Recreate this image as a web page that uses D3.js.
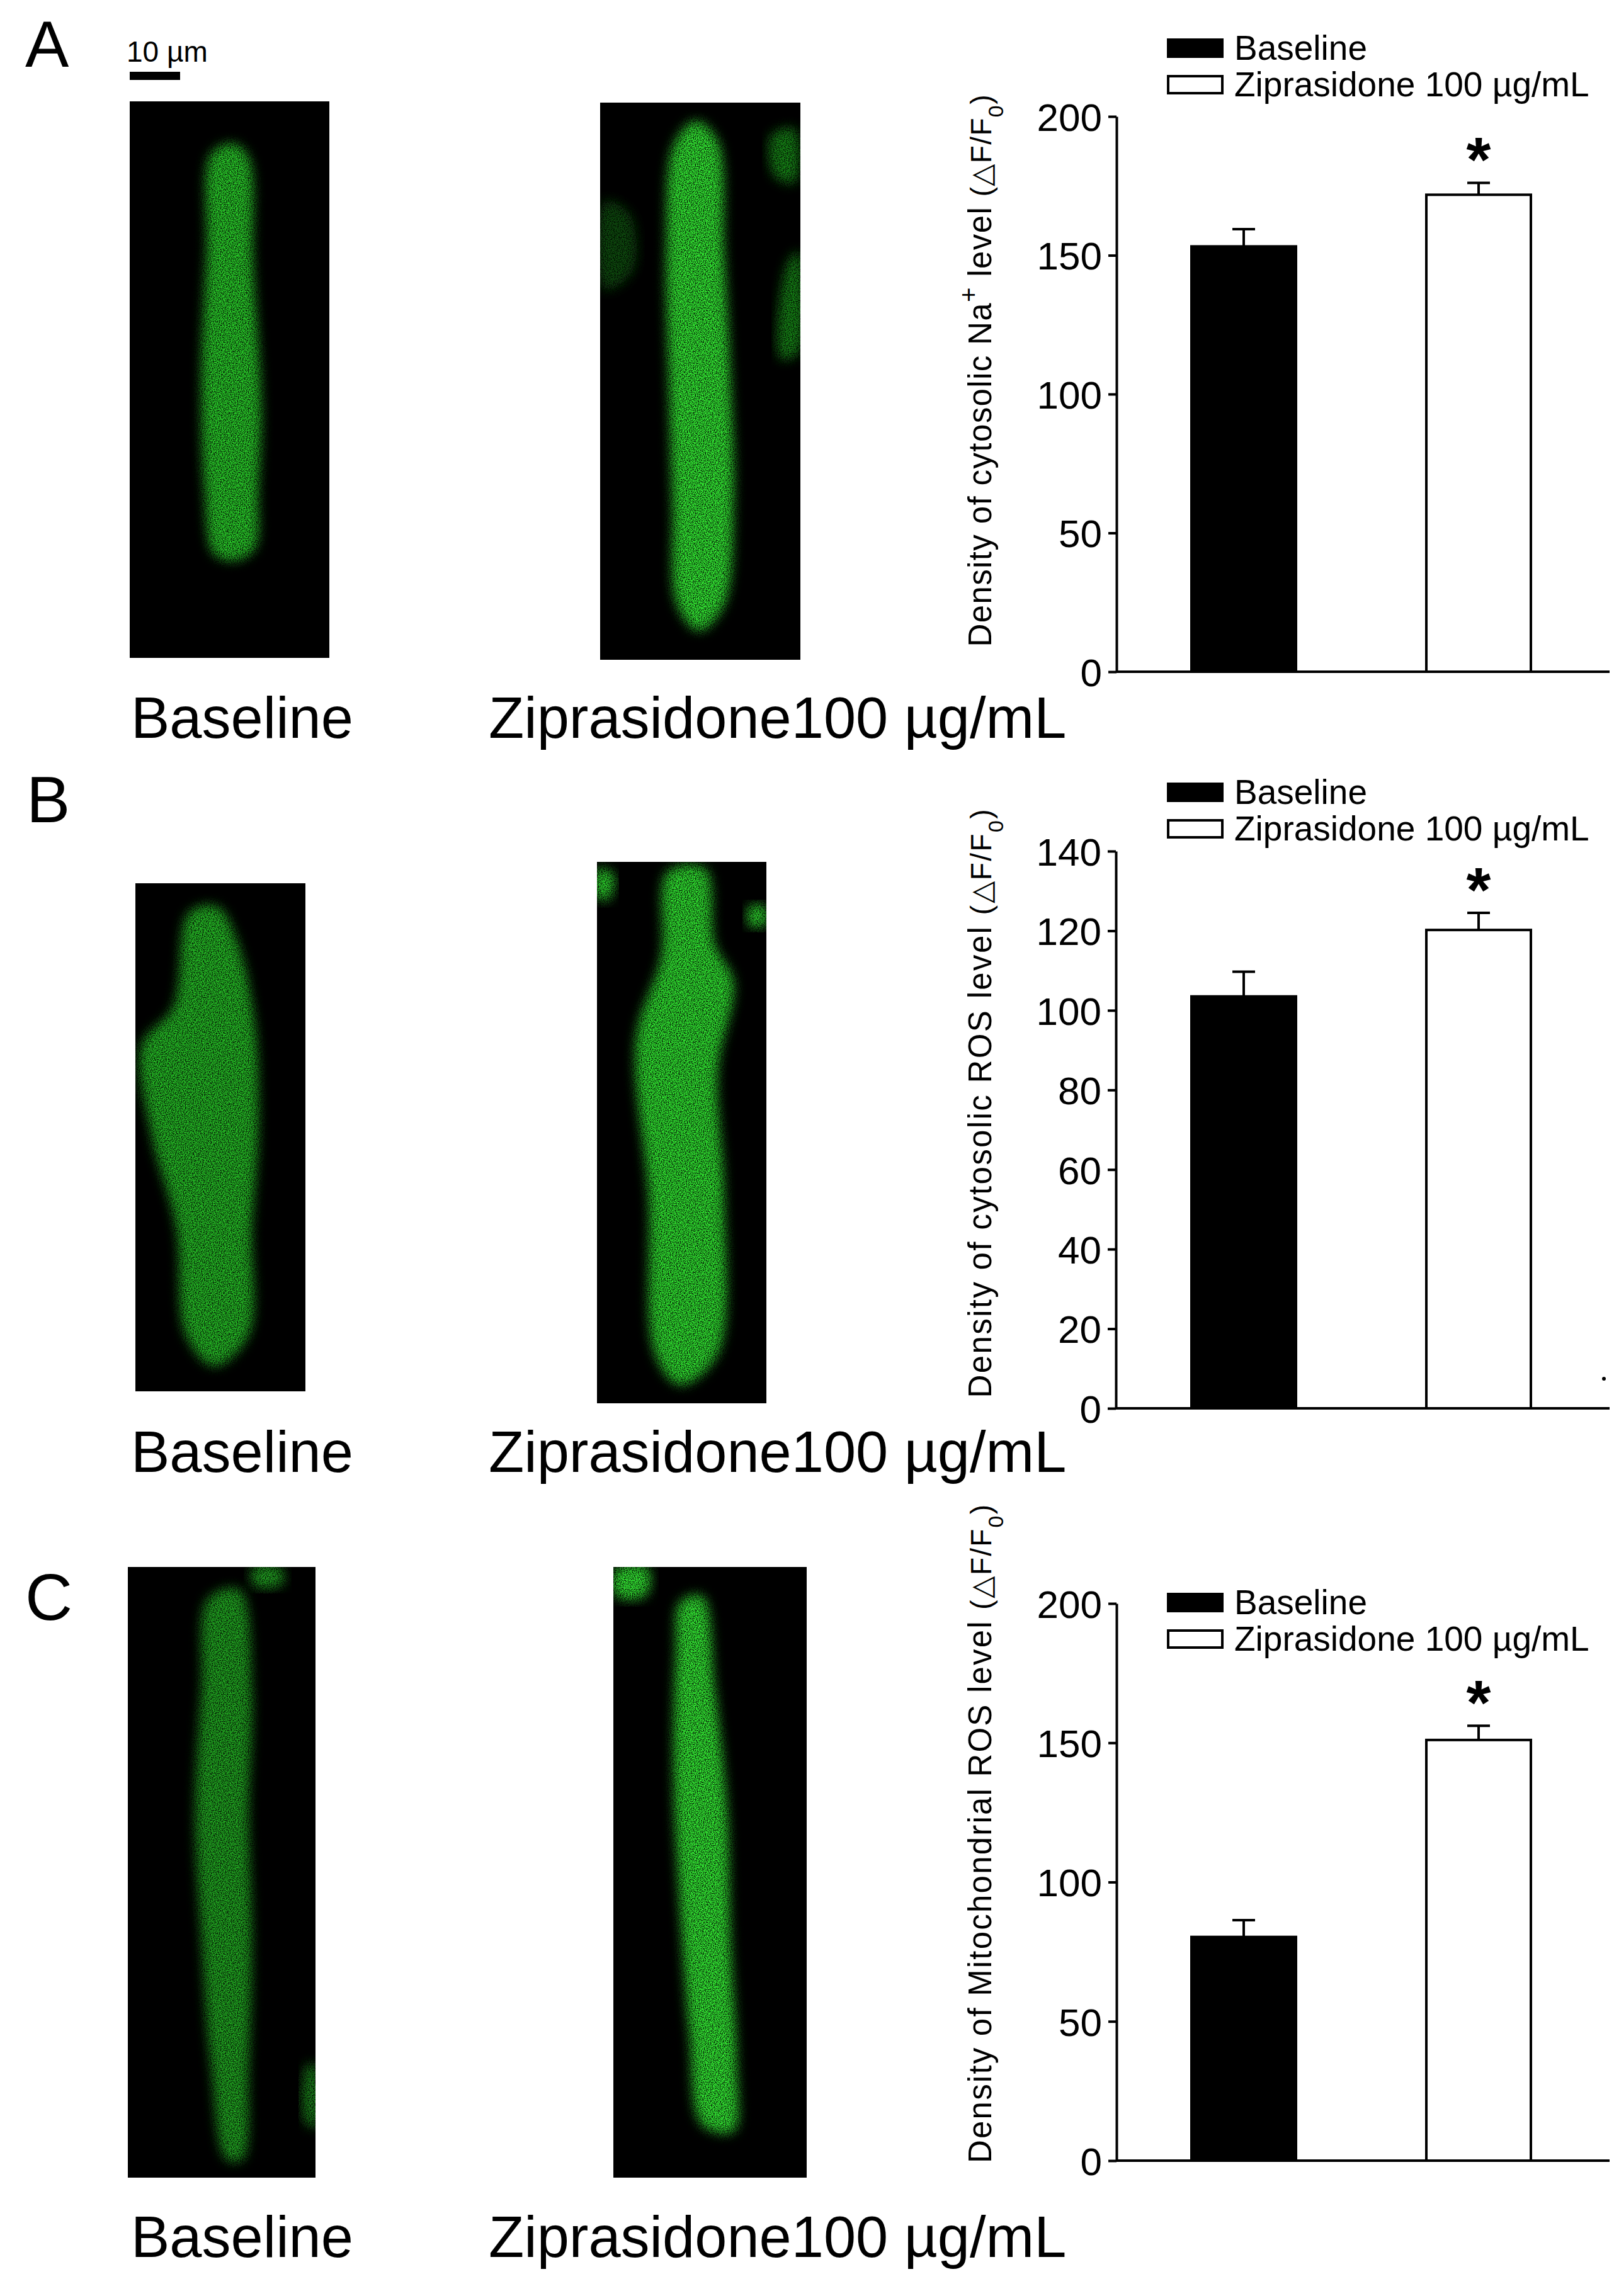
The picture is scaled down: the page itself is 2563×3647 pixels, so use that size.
<!DOCTYPE html>
<html>
<head>
<meta charset="utf-8">
<script src="https://cdn.jsdelivr.net/npm/d3@7"></script>
<style>
  body { margin: 0; background: #fff; }
  text { font-family: "Liberation Sans", Arial, sans-serif; }
</style>
</head>
<body>
<div id="fig"></div>
<script>
// data
const groups = ["Baseline", "Ziprasidone 100 \u00b5g/mL"];
const naValues = [153.2, 171.8];
const naErrors = [6.2, 4.3];
const naTicks = [0, 50, 100, 150, 200];
const rosValues = [103.5, 120.2];
const rosErrors = [6.2, 4.3];
const rosTicks = [0, 20, 40, 60, 80, 100, 120, 140];
const mitoValues = [80.3, 151.0];
const mitoErrors = [6.0, 5.1];
const mitoTicks = [0, 50, 100, 150, 200];
const significant = [false, true];

const width = 2563, height = 3647;

const svg = d3.select('#fig').append('svg')
  .attr('width', width)
  .attr('height', height)
  .attr('viewBox', [0, 0, width, height]);

// grainy fluorescence look for the cell images
const defs = svg.append('defs');
const f = defs.append('filter').attr('id', 'grain')
  .attr('x', '-20%').attr('y', '-20%').attr('width', '140%').attr('height', '140%');
f.append('feGaussianBlur').attr('in', 'SourceGraphic').attr('stdDeviation', 9).attr('result', 'blur');
f.append('feTurbulence').attr('type', 'fractalNoise').attr('baseFrequency', 0.7)
  .attr('numOctaves', 1).attr('seed', 3).attr('result', 'noise');
f.append('feColorMatrix').attr('in', 'noise').attr('type', 'matrix')
  .attr('values', '0 0 0 0 0  0 0 0 0 0  0 0 0 0 0  3.2 0 0 0 -0.9').attr('result', 'na');
f.append('feComposite').attr('in', 'blur').attr('in2', 'na').attr('operator', 'in');

const line = d3.line().curve(d3.curveCatmullRomClosed);

function cellImage(box, outlines, color, label) {
  const g = svg.append('g');
  g.append('rect').attr('x', box[0]).attr('y', box[1])
    .attr('width', box[2] - box[0]).attr('height', box[3] - box[1]).attr('fill', '#000');
  const clipId = 'clip' + Math.round(box[0]) + Math.round(box[1]);
  defs.append('clipPath').attr('id', clipId).append('rect')
    .attr('x', box[0]).attr('y', box[1]).attr('width', box[2] - box[0]).attr('height', box[3] - box[1]);
  const cg = g.append('g').attr('clip-path', `url(#${clipId})`);
  outlines.forEach(o => {
    cg.append('path').attr('d', line(o.pts)).attr('fill', o.color || color)
      .attr('filter', 'url(#grain)');
  });
  svg.append('text').attr('x', label.x).attr('y', label.y)
    .attr('font-size', 92).attr('fill', '#000').text(label.text);
}

function barChart(cfg) {
  const y = d3.scaleLinear().domain([0, cfg.ticks[cfg.ticks.length - 1]]).range([cfg.y0, cfg.yTop]);
  const x = d3.scalePoint().domain(groups).range([1975, 2348]);
  const bw = 166;
  const g = svg.append('g');

  const axis = g.append('g').attr('transform', `translate(${cfg.xAxis},0)`)
    .call(d3.axisLeft(y).tickValues(cfg.ticks).tickSize(13).tickSizeOuter(0).tickPadding(10));
  axis.select('.domain').attr('stroke-width', 4);
  axis.selectAll('.tick line').attr('stroke-width', 4);
  axis.selectAll('.tick text').attr('font-size', 62).attr('font-family', '"Liberation Sans", Arial, sans-serif')
    .attr('dy', '0.36em');

  // baseline
  g.append('line').attr('x1', cfg.xAxis).attr('x2', 2556)
    .attr('y1', y(0)).attr('y2', y(0)).attr('stroke', '#000').attr('stroke-width', 4);

  const idx = d => groups.indexOf(d);
  const bars = g.selectAll('.bar').data(groups).enter().append('g');
  bars.append('line')
    .attr('x1', d => x(d)).attr('x2', d => x(d))
    .attr('y1', d => y(cfg.values[idx(d)])).attr('y2', d => y(cfg.values[idx(d)] + cfg.errors[idx(d)]))
    .attr('stroke', '#000').attr('stroke-width', 4);
  bars.append('line')
    .attr('x1', d => x(d) - 18).attr('x2', d => x(d) + 18)
    .attr('y1', d => y(cfg.values[idx(d)] + cfg.errors[idx(d)]))
    .attr('y2', d => y(cfg.values[idx(d)] + cfg.errors[idx(d)]))
    .attr('stroke', '#000').attr('stroke-width', 4);
  bars.append('rect')
    .attr('x', d => x(d) - bw / 2).attr('width', bw)
    .attr('y', d => y(cfg.values[idx(d)])).attr('height', d => y(0) - y(cfg.values[idx(d)]))
    .attr('fill', d => idx(d) === 0 ? '#000' : '#fff')
    .attr('stroke', '#000').attr('stroke-width', 4);
  bars.filter(d => significant[idx(d)]).append('text')
    .attr('x', d => x(d)).attr('y', d => y(cfg.values[idx(d)] + cfg.errors[idx(d)]) - 2)
    .attr('text-anchor', 'middle').attr('font-size', 100).attr('font-weight', 'bold').text('*');

  // legend
  const lg = g.append('g');
  groups.forEach((name, i) => {
    const yy = cfg.legendY + i * 58;
    lg.append('rect').attr('x', 1855).attr('y', yy).attr('width', 86).attr('height', 27)
      .attr('fill', i === 0 ? '#000' : '#fff').attr('stroke', '#000').attr('stroke-width', 4);
    lg.append('text').attr('x', 1960).attr('y', yy + 32).attr('font-size', 55).text(name);
  });

  // y title
  const t = g.append('text')
    .attr('transform', `translate(1574,${cfg.titleY}) rotate(-90)`)
    .attr('text-anchor', 'middle').attr('font-size', 51)
    .attr('textLength', cfg.titleLen).attr('lengthAdjust', 'spacing');
  cfg.title.forEach(p => {
    const s = t.append('tspan').text(p.t);
    if (p.sup) s.attr('baseline-shift', 'super').attr('font-size', 40);
    if (p.sub) s.attr('baseline-shift', 'sub').attr('font-size', 34);
    if (p.small) s.attr('font-size', 46);
  });
}

// panel letters and scale bar
svg.append('text').attr('x', 40).attr('y', 106).attr('font-size', 104).text('A');
svg.append('text').attr('x', 42).attr('y', 1306).attr('font-size', 104).text('B');
svg.append('text').attr('x', 40).attr('y', 2573).attr('font-size', 104).text('C');
svg.append('rect').attr('x', 206).attr('y', 114).attr('width', 80).attr('height', 13).attr('fill', '#000');
svg.append('text').attr('x', 201).attr('y', 98).attr('font-size', 46).text('10 \u00b5m');

// panel A images
cellImage([206, 161, 523, 1045], [{pts: [[335,245],[370,228],[395,250],[402,420],[415,650],[410,780],[405,870],[375,890],[340,880],[325,780],[320,600],[328,400]]}],
  '#2ad02a', {x: 208, y: 1172, text: 'Baseline'});
cellImage([953, 163, 1271, 1048], [
  {pts: [[1070,230],[1105,192],[1140,225],[1150,400],[1160,600],[1165,800],[1150,960],[1110,1002],[1075,960],[1068,800],[1062,600],[1058,400]]},
  {pts: [[1225,215],[1262,205],[1262,290],[1230,280]], color: '#188818'},
  {pts: [[1250,420],[1268,400],[1268,560],[1240,570]], color: '#188818'},
  {pts: [[960,320],[1000,340],[1005,430],[960,460]], color: '#0d4d0d'}],
  '#34f034', {x: 776, y: 1172, text: 'Ziprasidone100 \u00b5g/mL'});

// panel B images
cellImage([215, 1403, 485, 2210], [{pts: [[300,1450],[345,1440],[378,1500],[405,1630],[410,1800],[400,1950],[395,2120],[340,2170],[295,2120],[280,1950],[240,1800],[225,1660],[275,1600]]}],
  '#26c026', {x: 208, y: 2338, text: 'Baseline'});
cellImage([948, 1369, 1217, 2229], [
  {pts: [[1060,1385],[1120,1380],[1135,1500],[1165,1560],[1140,1700],[1150,1900],[1140,2150],[1080,2200],[1040,2150],[1030,1900],[1010,1650],[1050,1520]]},
  {pts: [[948,1380],[975,1390],[965,1430],[948,1425]]},
  {pts: [[1190,1440],[1215,1440],[1215,1470],[1190,1470]]}],
  '#30e830', {x: 776, y: 2338, text: 'Ziprasidone100 \u00b5g/mL'});

// panel C images
cellImage([203, 2489, 501, 3459], [
  {pts: [[330,2540],[380,2525],[400,2680],[395,2880],[400,3080],[395,3280],[385,3430],[360,3430],[335,3280],[320,3080],[310,2880],[320,2680]], color: '#22aa22'},
  {pts: [[400,2492],[445,2490],[450,2515],[405,2520]]},
  {pts: [[488,3280],[501,3280],[501,3380],[485,3370]], color: '#1a8f1a'}],
  '#22aa22', {x: 208, y: 3585, text: 'Baseline'});
cellImage([974, 2489, 1281, 3459], [
  {pts: [[1080,2545],[1115,2535],[1135,2680],[1155,2880],[1160,3080],[1170,3280],[1165,3385],[1115,3375],[1095,3230],[1080,3030],[1070,2830],[1073,2630]]},
  {pts: [[978,2492],[1030,2492],[1025,2535],[978,2535]]}],
  '#34f034', {x: 776, y: 3585, text: 'Ziprasidone100 \u00b5g/mL'});

barChart({values: naValues, errors: naErrors, ticks: naTicks, xAxis: 1773, y0: 1067, yTop: 185,
  legendY: 63, titleY: 589, titleLen: 877,
  title: [{t: 'Density of cytosolic Na'}, {t: '+', sup: true}, {t: ' level '}, {t: '(\u25b3F/F', small: true}, {t: '0', sub: true}, {t: ')', small: true}]});
barChart({values: rosValues, errors: rosErrors, ticks: rosTicks, xAxis: 1772, y0: 2237, yTop: 1352,
  legendY: 1245, titleY: 1753, titleLen: 935,
  title: [{t: 'Density of cytosolic ROS level '}, {t: '(\u25b3F/F', small: true}, {t: '0', sub: true}, {t: ')', small: true}]});
barChart({values: mitoValues, errors: mitoErrors, ticks: mitoTicks, xAxis: 1773, y0: 3432, yTop: 2547,
  legendY: 2532, titleY: 2913, titleLen: 1046,
  title: [{t: 'Density of Mitochondrial ROS level '}, {t: '(\u25b3F/F', small: true}, {t: '0', sub: true}, {t: ')', small: true}]});

// stray dot next to panel B axis
svg.append('circle').attr('cx', 2547).attr('cy', 2190).attr('r', 3).attr('fill', '#000');
</script>
</body>
</html>
